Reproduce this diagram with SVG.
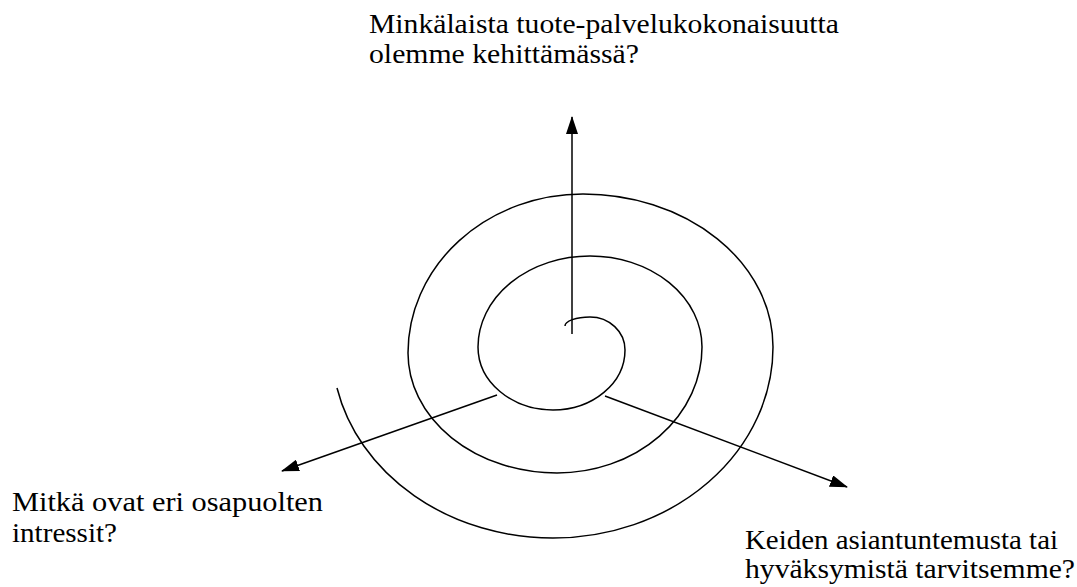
<svg xmlns="http://www.w3.org/2000/svg" width="1077" height="587" viewBox="0 0 1077 587">
<style>
text{font-family:'Liberation Serif','Times New Roman','DejaVu Serif',serif;font-size:28px;fill:#000}
.c{stroke:#000;stroke-width:1.5;fill:none}
</style>
<defs>
<marker id="ah" markerWidth="18" markerHeight="12" refX="17" refY="6" orient="auto" markerUnits="userSpaceOnUse">
<path d="M0,0 L18,6 L0,12 Z" fill="#000"/>
</marker>
</defs>
<rect width="1077" height="587" fill="#fff"/>
<g id="spiral">
<path class="c" d="M565,326 A25,9 0 0 1 590,317 A35,33 0 0 1 625,350 A72,60 0 0 1 553,410 A75,63 0 0 1 478,347 A112,91 0 0 1 590,256 A112,91 0 0 1 702,347 A145,126 0 0 1 557,473 A149,120 0 0 1 408,353 A175,159 0 0 1 583,194 A190,153 0 0 1 773,347 A220,191 0 0 1 553,538 A221,191 0 0 1 337,388"/>
</g>
<g id="connectors">
<line class="c" x1="572" y1="334" x2="572" y2="117" marker-end="url(#ah)"/>
<line class="c" x1="497" y1="395" x2="282" y2="471" marker-end="url(#ah)"/>
<line class="c" x1="605" y1="396" x2="847" y2="487" marker-end="url(#ah)"/>
</g>
<g id="top-label">
<text x="369" y="33" textLength="470" lengthAdjust="spacingAndGlyphs">Minkälaista tuote-palvelukokonaisuutta</text>
<text x="369" y="63" textLength="270" lengthAdjust="spacingAndGlyphs">olemme kehittämässä?</text>
</g>
<g id="left-label">
<text x="12" y="511" textLength="311" lengthAdjust="spacingAndGlyphs">Mitkä ovat eri osapuolten</text>
<text x="12" y="542" textLength="105" lengthAdjust="spacingAndGlyphs">intressit?</text>
</g>
<g id="right-label">
<text x="745" y="549" textLength="313" lengthAdjust="spacingAndGlyphs">Keiden asiantuntemusta tai</text>
<text x="745" y="578" textLength="330" lengthAdjust="spacingAndGlyphs">hyväksymistä tarvitsemme?</text>
</g>
</svg>
